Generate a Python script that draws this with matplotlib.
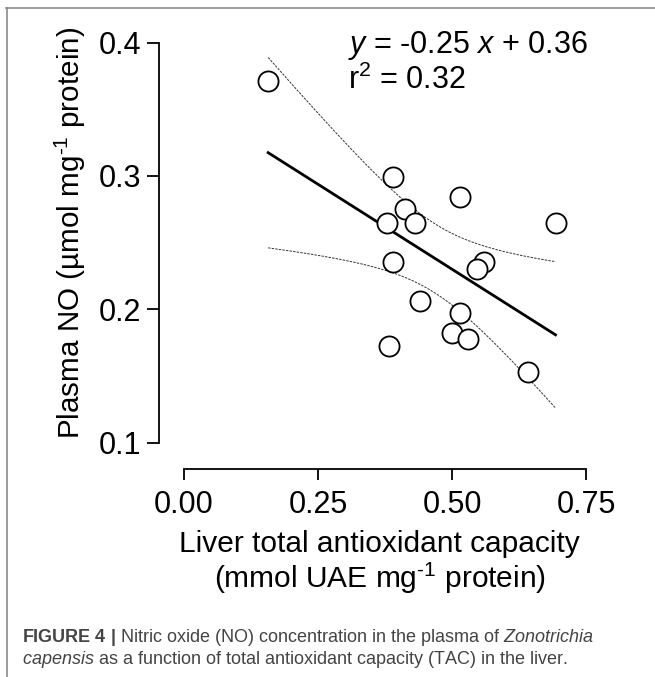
import numpy as np
import matplotlib
matplotlib.use('Agg')
import matplotlib.pyplot as plt

# liver TAC (x) vs plasma NO (y)
tac = [0.157, 0.389, 0.515, 0.412, 0.379, 0.431, 0.693, 0.390,
       0.560, 0.546, 0.440, 0.514, 0.500, 0.529, 0.382, 0.642]
no = [0.371, 0.299, 0.284, 0.275, 0.2645, 0.2645, 0.2645, 0.2357,
      0.2357, 0.230, 0.2065, 0.1975, 0.1825, 0.1775, 0.1725, 0.1532]

xticks = [0.0, 0.25, 0.5, 0.75]
xticklabels = ['0.00', '0.25', '0.50', '0.75']
yticks = [0.1, 0.2, 0.3, 0.4]
yticklabels = ['0.1', '0.2', '0.3', '0.4']

W, H = 655, 677
plt.rcParams['font.family'] = ['Liberation Sans', 'DejaVu Sans']
plt.rcParams['mathtext.fontset'] = 'custom'
plt.rcParams['mathtext.rm'] = 'Liberation Sans'
plt.rcParams['mathtext.it'] = 'Liberation Sans:italic'
plt.rcParams['mathtext.bf'] = 'Liberation Sans:bold'
fig = plt.figure(figsize=(W / 100, H / 100), dpi=100)

# frame around the figure panel
fig.add_artist(plt.Line2D([6 / W, 1.0], [1 - 8 / H, 1 - 8 / H], color='#8a8a8a', lw=1.2))
fig.add_artist(plt.Line2D([7 / W, 7 / W], [0.0, 1 - 8 / H], color='#8a8a8a', lw=1.2))

ax = fig.add_axes([159 / W, 1 - 469 / H, 441 / W, 439 / H])
ax.set_xlim(-0.0466, 0.776)
ax.set_ylim(0.0802, 0.4095)

x = np.asarray(tac)
y = np.asarray(no)
n = len(x)
slope, icpt = np.polyfit(x, y, 1)
xs = np.linspace(x.min(), x.max(), 200)
fit = icpt + slope * xs
resid = y - (icpt + slope * x)
s = np.sqrt(np.sum(resid ** 2) / (n - 2))
sxx = np.sum((x - x.mean()) ** 2)
tcrit = 2.145  # t(0.975, 14)
half = tcrit * s * np.sqrt(1 / n + (xs - x.mean()) ** 2 / sxx)

ax.plot(xs, fit + half, color='#333333', lw=0.7, ls=(0, (2.5, 1.2)))
ax.plot(xs, fit - half, color='#333333', lw=0.7, ls=(0, (2.5, 1.2)))
ax.plot(xs, fit, color='black', lw=2.0)
ax.plot(x, y, 'o', ms=14.5, mfc='white', mec='black', mew=1.3, zorder=3)

for side in ['top', 'right']:
    ax.spines[side].set_visible(False)
ax.spines['left'].set_bounds(0.1, 0.4)
ax.spines['bottom'].set_bounds(0.0, 0.75)
for side in ['left', 'bottom']:
    ax.spines[side].set_linewidth(1.3)
ax.set_xticks(xticks)
ax.set_xticklabels(xticklabels)
ax.set_yticks(yticks)
ax.set_yticklabels(yticklabels)
ax.tick_params(axis='both', direction='out', width=1.3, labelsize=22)
ax.tick_params(axis='x', length=8, pad=7)
ax.tick_params(axis='y', length=9, pad=4)

ax.set_xlabel('Liver total antioxidant capacity\n(mmol UAE mg$^{\\text{-1}}$ protein)',
              fontsize=21.5, labelpad=7, linespacing=1.12)
ax.set_ylabel('Plasma NO (\u00b5mol mg$^{\\text{-1}}$ protein)', fontsize=21.3)
ax.yaxis.set_label_coords(-0.161, 0.538)

ax.text(348 / W, 1 - 45 / H, '$y$ = -0.25 $x$ + 0.36', transform=fig.transFigure,
        fontsize=22, va='center', ha='left')
ax.text(348 / W, 1 - 80 / H, 'r$^2$ = 0.32', transform=fig.transFigure,
        fontsize=22, va='center', ha='left')

cap_kw = dict(fontsize=13, color='#444444', va='center', ha='left')
fig.text(22 / W, 1 - 638 / H,
         '$\\mathbf{FIGURE\\ 4\\ |}$ Nitric oxide (NO) concentration in the plasma of $\\mathit{Zonotrichia}$',
         **cap_kw)
fig.text(22 / W, 1 - 660 / H,
         '$\\mathit{capensis}$ as a function of total antioxidant capacity (TAC) in the liver.', **cap_kw)

fig.savefig('out.png', dpi=100)
